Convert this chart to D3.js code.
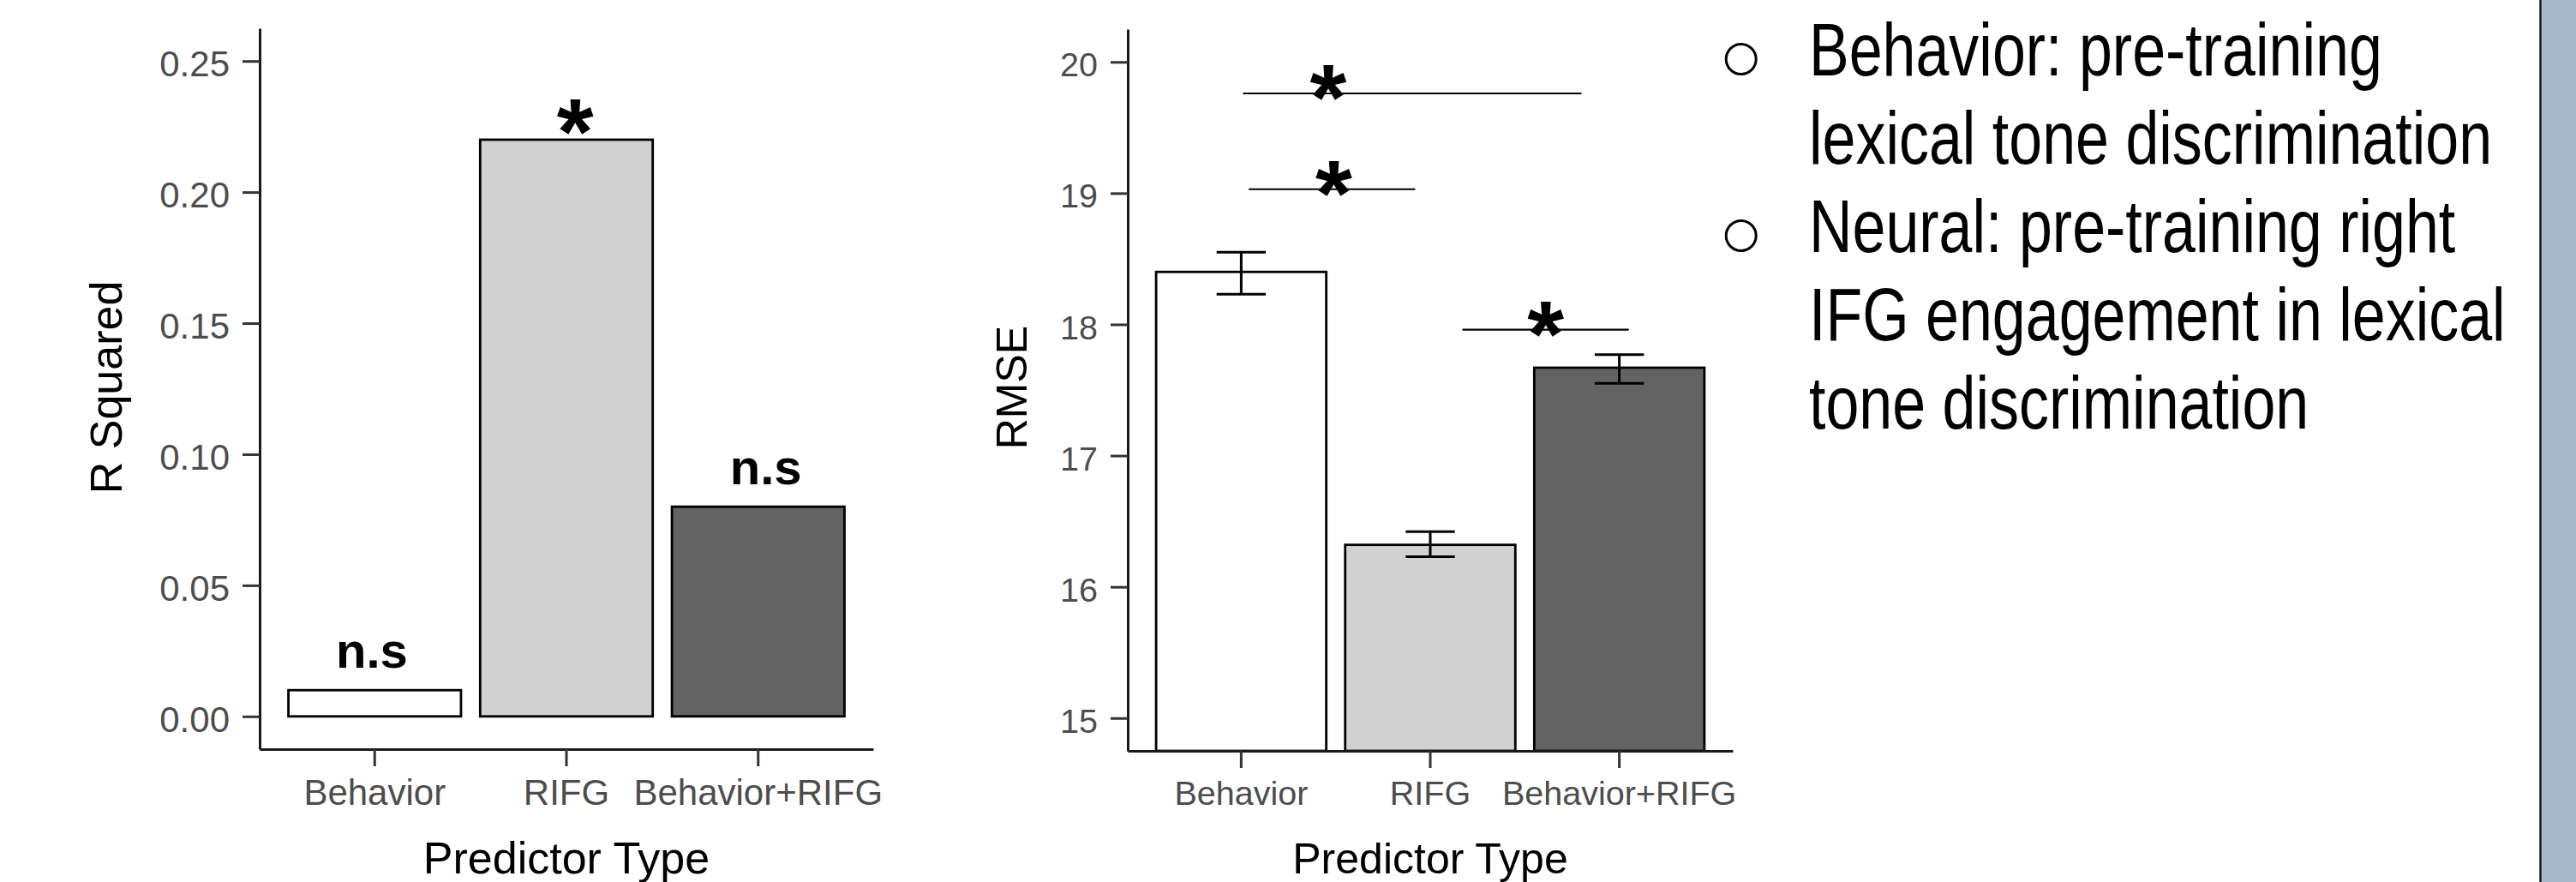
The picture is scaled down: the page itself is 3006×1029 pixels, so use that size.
<!DOCTYPE html>
<html>
<head>
<meta charset="utf-8">
<script src="https://cdn.jsdelivr.net/npm/d3@7"></script>
<style>
  body { margin: 0; background: #fff; }
  text { font-family: "Liberation Sans", Arial, Helvetica, sans-serif; }
</style>
</head>
<body>
<script>
// ---- data ----
const categories = ["Behavior", "RIFG", "Behavior+RIFG"];
const barFills = ["#ffffff", "#d1d1d1", "#636363"];

const rSquared = [0.01, 0.22, 0.08];
const rSquaredTicks = [0, 0.05, 0.10, 0.15, 0.20, 0.25];
const rSquaredMarks = ["n.s", "*", "n.s"];
const rSquaredMarkX = [-0.015, 0.045, 0.04]; // category units, labels sit a bit off centre

const rmse = [18.40, 16.32, 17.67];
const rmseLow = [18.23, 16.23, 17.55];
const rmseHigh = [18.55, 16.42, 17.77];
const rmseTicks = [15, 16, 17, 18, 19, 20];

// significance lines on the RMSE plot, x in category units (0 = Behavior)
const compFrom = [0.01, 0.04, 1.17];
const compTo = [1.80, 0.92, 2.05];
const compY = [19.76, 19.03, 17.96];
const starX = [0.46, 0.49, 1.61];

const bulletLines = [
  ["Behavior: pre-training", "lexical tone discrimination"],
  ["Neural: pre-training right", "IFG engagement in lexical", "tone discrimination"]
];

const W = 3006, H = 1029;

const svg = d3.select("body").append("svg")
  .attr("width", W)
  .attr("height", H)
  .style("display", "block");

svg.append("rect").attr("width", W).attr("height", H).attr("fill", "#fff");

function panel(cfg) {
  const x = d3.scaleBand()
    .domain(categories)
    .range(cfg.xRange)
    .paddingInner(0.1)
    .paddingOuter(0.15);
  const y = d3.scaleLinear().domain(cfg.yDomain).range(cfg.yRange);
  const g = svg.append("g");
  const base = cfg.barBase === undefined ? cfg.yRange[0] : y(cfg.barBase);

  g.selectAll("rect.bar")
    .data(cfg.values)
    .join("rect")
    .attr("class", "bar")
    .attr("x", (d, i) => x(categories[i]))
    .attr("width", x.bandwidth())
    .attr("y", d => y(d))
    .attr("height", d => base - y(d))
    .attr("fill", (d, i) => barFills[i])
    .attr("stroke", "#000")
    .attr("stroke-width", 2.8);

  const yAxis = g.append("g")
    .attr("transform", `translate(${cfg.xRange[0]},0)`)
    .call(d3.axisLeft(y)
      .tickValues(cfg.ticks)
      .tickFormat(cfg.fmt)
      .tickSize(20)
      .tickSizeOuter(0)
      .tickPadding(15));

  const xAxis = g.append("g")
    .attr("transform", `translate(0,${cfg.yRange[0]})`)
    .call(d3.axisBottom(x)
      .tickSize(20)
      .tickSizeOuter(0)
      .tickPadding(15));

  [yAxis, xAxis].forEach(a => {
    a.attr("font-size", cfg.tickFont).attr("font-family", null);
    a.select(".domain").attr("stroke", "#1a1a1a").attr("stroke-width", 3);
    a.selectAll(".tick line").attr("stroke", "#333").attr("stroke-width", 3);
    a.selectAll(".tick text").attr("fill", "#4d4d4d");
  });
  yAxis.selectAll(".tick text").attr("dy", "0.42em");

  // axis titles
  g.append("text")
    .attr("transform", `translate(${cfg.yTitleX},452) rotate(-90)`)
    .attr("text-anchor", "middle")
    .attr("font-size", cfg.titleFont)
    .attr("fill", "#000")
    .text(cfg.yTitle);

  g.append("text")
    .attr("x", x(categories[1]) + x.bandwidth() / 2)
    .attr("y", 1019)
    .attr("text-anchor", "middle")
    .attr("font-size", cfg.titleFont)
    .attr("fill", "#000")
    .text("Predictor Type");

  const pos = u => x(categories[0]) + x.bandwidth() / 2 + u * x.step();
  return { x, y, g, pos };
}

// ---- left: R squared ----
const left = panel({
  xRange: [303, 1019],
  yDomain: [-0.0125, 0.2625],
  yRange: [874, 33],
  values: rSquared,
  barBase: 0,
  ticks: rSquaredTicks,
  fmt: d3.format(".2f"),
  yTitle: "R Squared",
  yTitleX: 142,
  tickFont: 42,
  titleFont: 52
});

left.g.selectAll("text.mark")
  .data(rSquaredMarks)
  .join("text")
  .attr("class", "mark")
  .attr("x", (d, i) => left.pos(i + rSquaredMarkX[i]))
  .attr("y", (d, i) => left.y(rSquared[i]) - (d === "*" ? -28 : 26))
  .attr("text-anchor", "middle")
  .attr("font-weight", "bold")
  .attr("font-size", d => d === "*" ? 110 : 58)
  .attr("fill", "#000")
  .text(d => d);

// ---- right: RMSE ----
const right = panel({
  xRange: [1316, 2022],
  yDomain: [14.75, 20.25],
  yRange: [876, 34],
  values: rmse,
  ticks: rmseTicks,
  fmt: d3.format("d"),
  yTitle: "RMSE",
  yTitleX: 1198,
  tickFont: 39.5,
  titleFont: 50
});

const capHalf = right.x.step() * 0.13;
const err = right.g.append("g").attr("stroke", "#000").attr("stroke-width", 3);
rmse.forEach((d, i) => {
  const cx = right.pos(i);
  err.append("line")
    .attr("x1", cx).attr("x2", cx)
    .attr("y1", right.y(rmseLow[i])).attr("y2", right.y(rmseHigh[i]));
  [rmseLow[i], rmseHigh[i]].forEach(v => {
    err.append("line")
      .attr("x1", cx - capHalf).attr("x2", cx + capHalf)
      .attr("y1", right.y(v)).attr("y2", right.y(v));
  });
});

right.g.selectAll("line.comp")
  .data(compY)
  .join("line")
  .attr("class", "comp")
  .attr("x1", (d, i) => right.pos(compFrom[i]))
  .attr("x2", (d, i) => right.pos(compTo[i]))
  .attr("y1", d => right.y(d))
  .attr("y2", d => right.y(d))
  .attr("stroke", "#000")
  .attr("stroke-width", 2.2);

right.g.selectAll("text.star")
  .data(compY)
  .join("text")
  .attr("class", "star")
  .attr("x", (d, i) => right.pos(starX[i]))
  .attr("y", d => right.y(d) + 42)
  .attr("text-anchor", "middle")
  .attr("font-weight", "bold")
  .attr("font-size", 110)
  .attr("fill", "#000")
  .text("*");

// ---- bullet text ----
const notes = svg.append("g");
let line = 0;
bulletLines.forEach(lines => {
  const baseY = 88 + line * 103;
  notes.append("circle")
    .attr("cx", 2031.7)
    .attr("cy", baseY - 19)
    .attr("r", 17.5)
    .attr("fill", "none")
    .attr("stroke", "#000")
    .attr("stroke-width", 3);
  lines.forEach(t => {
    notes.append("text")
      .attr("transform", `translate(2111,${88 + line * 103}) scale(0.795,1)`)
      .attr("font-size", 88)
      .attr("fill", "#000")
      .text(t);
    line++;
  });
});

// slide edge on the right
svg.append("rect")
  .attr("x", 2965).attr("y", 0)
  .attr("width", W - 2965).attr("height", H)
  .attr("fill", "#a9b8c8");
svg.append("line")
  .attr("x1", 2964.5).attr("x2", 2964.5)
  .attr("y1", 0).attr("y2", H)
  .attr("stroke", "#1a1a1a")
  .attr("stroke-width", 2.5);
</script>
</body>
</html>
